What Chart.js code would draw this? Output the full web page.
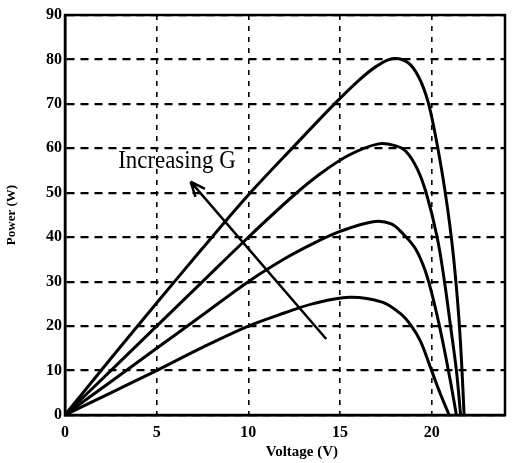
<!DOCTYPE html>
<html>
<head>
<meta charset="utf-8">
<script src="https://cdn.jsdelivr.net/npm/chart.js@4"></script>
<style>
html, body { margin: 0; padding: 0; background: #fff; }
#wrap { width: 514px; height: 463px; }
</style>
</head>
<body>
<div id="wrap"><canvas id="chart"></canvas></div>
<script>
// P-V curves for four irradiance levels
const voltage1 = [0, 2.5, 5, 7.5, 10, 12.5, 14.7, 16, 17, 17.9, 18.7, 19.3, 19.8, 20.2, 20.55, 20.85, 21.1, 21.3, 21.48, 21.63, 21.77];
const power1   = [0, 12.7, 25.2, 37.5, 49.5, 60.5, 70, 75.2, 78.5, 80.2, 79.3, 76, 70.5, 63, 55, 47, 39, 31, 22, 12, 0];

const voltage2 = [0, 2.5, 5, 7.5, 10, 12.5, 14, 15.5, 17.1, 18, 18.6, 19.2, 19.7, 20.3, 20.7, 21.03, 21.35, 21.58];
const power2   = [0, 10, 20, 30, 40, 49.5, 54.5, 58.5, 61, 60.6, 59.3, 55.5, 50, 40, 30, 20, 10, 0];

const voltage3 = [0, 2.5, 5, 7.5, 10, 12, 13.5, 15, 16.8, 17.8, 18.5, 19.1, 19.6, 20, 20.4, 20.75, 21.05, 21.35];
const power3   = [0, 7.5, 15, 22.5, 30, 35.2, 38.5, 41.3, 43.5, 43, 40.5, 37.5, 33, 27.5, 20.5, 13.5, 7, 0];

const voltage4 = [0, 2.5, 5, 7.5, 10, 12, 13.5, 15.5, 17.3, 18.3, 18.9, 19.4, 19.95, 20.45, 20.95];
const power4   = [0, 5, 10, 15.2, 20, 23, 25, 26.5, 25.4, 22.8, 20, 16.5, 10.5, 5, 0];

const xTicks = [0, 5, 10, 15, 20];
const yTicks = [0, 10, 20, 30, 40, 50, 60, 70, 80, 90];

const annotationText = 'Increasing G';
const arrowFrom = [14.25, 17.1];
const arrowTo = [6.85, 52.5];
const textAt = [2.9, 55.6];

const toPoints = (xs, ys) => xs.map((x, i) => ({ x: x, y: ys[i] }));

const curve = (xs, ys) => ({
    data: toPoints(xs, ys),
    showLine: true,
    borderColor: '#000',
    borderWidth: 3,
    pointRadius: 0,
    tension: 0.35,
    fill: false
});

const tickFont = { family: 'Liberation Serif', size: 16, weight: 'bold' };

// frame around the plot + the annotation arrow/text
const extras = {
    id: 'extras',
    afterDatasetsDraw(chart) {
        const ctx = chart.ctx;
        const a = chart.chartArea;
        const xs = chart.scales.x;
        const ys = chart.scales.y;

        ctx.save();
        ctx.strokeStyle = '#000';
        ctx.lineWidth = 2.5;
        ctx.strokeRect(a.left, a.top, a.right - a.left, a.bottom - a.top);

        const x1 = xs.getPixelForValue(arrowFrom[0]);
        const y1 = ys.getPixelForValue(arrowFrom[1]);
        const x2 = xs.getPixelForValue(arrowTo[0]);
        const y2 = ys.getPixelForValue(arrowTo[1]);
        ctx.lineWidth = 2.5;
        ctx.beginPath();
        ctx.moveTo(x1, y1);
        ctx.lineTo(x2, y2);
        const ang = Math.atan2(y2 - y1, x2 - x1);
        const len = 16;
        ctx.moveTo(x2, y2);
        ctx.lineTo(x2 - len * Math.cos(ang - 0.4), y2 - len * Math.sin(ang - 0.4));
        ctx.moveTo(x2, y2);
        ctx.lineTo(x2 - len * Math.cos(ang + 0.4), y2 - len * Math.sin(ang + 0.4));
        ctx.stroke();

        const tx = xs.getPixelForValue(textAt[0]);
        const ty = ys.getPixelForValue(textAt[1]);
        ctx.translate(tx, ty);
        ctx.scale(0.88, 1);
        ctx.fillStyle = '#000';
        ctx.font = '26px "Liberation Serif"';
        ctx.textBaseline = 'alphabetic';
        ctx.textAlign = 'left';
        ctx.fillText(annotationText, 0, 0);
        ctx.restore();
    }
};

new Chart(document.getElementById('chart'), {
    type: 'scatter',
    data: {
        datasets: [
            curve(voltage1, power1),
            curve(voltage2, power2),
            curve(voltage3, power3),
            curve(voltage4, power4)
        ]
    },
    options: {
        responsive: true,
        maintainAspectRatio: false,
        animation: false,
        layout: { padding: { left: 0, right: 9, top: 15, bottom: 0 } },
        plugins: {
            legend: { display: false },
            tooltip: { enabled: false }
        },
        scales: {
            x: {
                type: 'linear',
                min: 0,
                max: 24,
                afterBuildTicks: (scale) => {
                    scale.ticks = xTicks.concat([24]).map(v => ({ value: v }));
                },
                afterFit: (scale) => { scale.height = 48; },
                ticks: {
                    color: '#000',
                    font: tickFont,
                    padding: 8,
                    maxRotation: 0,
                    callback: (v) => xTicks.includes(v) ? String(v) : ''
                },
                grid: { color: '#000', lineWidth: 1.6, drawTicks: false },
                border: { color: '#000', width: 2.5, dash: [5, 6] },
                title: {
                    display: true,
                    text: '         Voltage (V)',
                    color: '#000',
                    font: { family: 'Liberation Serif', size: 15, weight: 'bold' },
                    padding: { top: 0, bottom: 2 }
                }
            },
            y: {
                min: 0,
                max: 90,
                afterBuildTicks: (scale) => {
                    scale.ticks = yTicks.map(v => ({ value: v }));
                },
                afterFit: (scale) => { scale.width = 65; },
                ticks: {
                    color: '#000',
                    font: tickFont,
                    padding: 3
                },
                grid: { color: '#000', lineWidth: 2.2, drawTicks: false },
                border: { color: '#000', width: 2.5, dash: [8, 6] },
                title: {
                    display: true,
                    text: 'Power (W)',
                    color: '#000',
                    font: { family: 'Liberation Serif', size: 13, weight: 'bold' },
                    padding: { top: 4, bottom: 0 }
                }
            }
        }
    },
    plugins: [extras]
});
</script>
</body>
</html>
